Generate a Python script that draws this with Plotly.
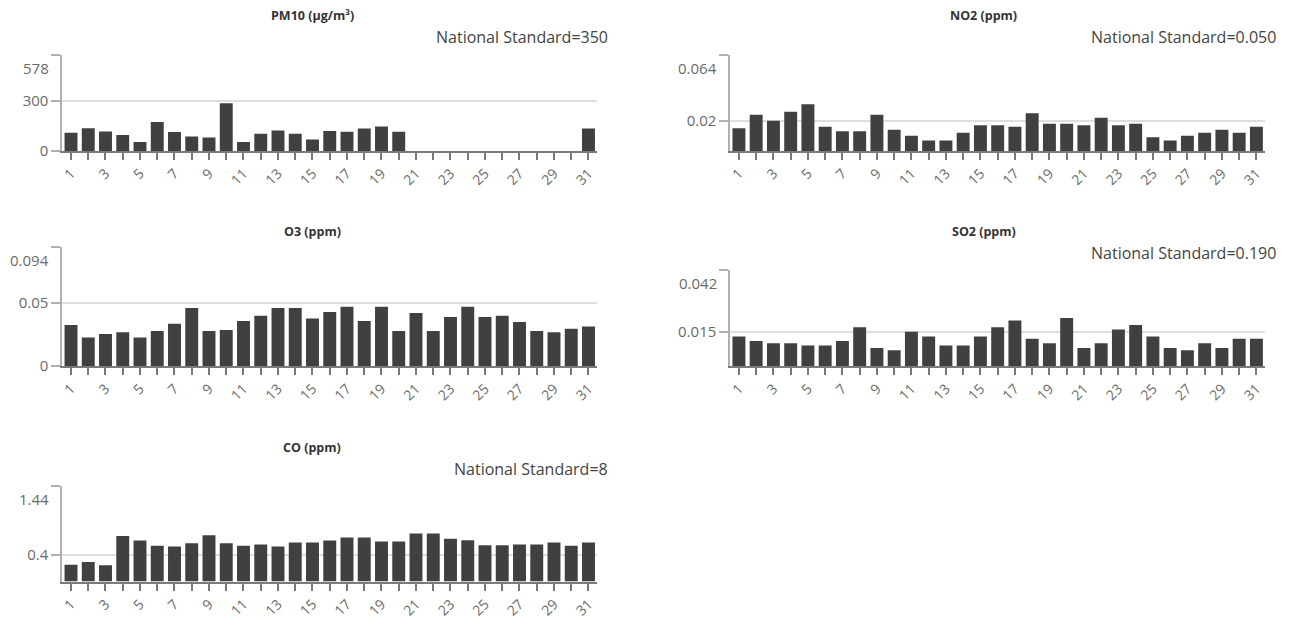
import plotly.graph_objects as go

# ---------------- data ----------------
days = list(range(1, 32))
day_labels = [str(d) if d % 2 == 1 else "" for d in days]

pm10 = [109, 136, 117, 95, 53, 173, 113, 86, 80, 287, 53, 103, 123, 103, 68,
        119, 115, 134, 146, 115, None, None, None, None, None, None, None, None,
        None, None, 134]
no2 = [0.015, 0.024, 0.020, 0.026, 0.031, 0.016, 0.013, 0.013, 0.024, 0.014,
       0.010, 0.007, 0.007, 0.012, 0.017, 0.017, 0.016, 0.025, 0.018, 0.018,
       0.017, 0.022, 0.017, 0.018, 0.009, 0.007, 0.010, 0.012, 0.014, 0.012,
       0.016]
o3 = [0.0325, 0.0227, 0.0255, 0.0268, 0.0227, 0.0278, 0.0335, 0.0459, 0.0278,
      0.0286, 0.0356, 0.0399, 0.0459, 0.0459, 0.0376, 0.0428, 0.0469, 0.0356,
      0.0469, 0.0278, 0.0420, 0.0278, 0.0389, 0.0469, 0.0389, 0.0399, 0.0348,
      0.0278, 0.0268, 0.0296, 0.0314]
so2 = [0.013, 0.011, 0.010, 0.010, 0.009, 0.009, 0.011, 0.017, 0.008, 0.007,
       0.015, 0.013, 0.009, 0.009, 0.013, 0.017, 0.020, 0.012, 0.010, 0.021,
       0.008, 0.010, 0.016, 0.018, 0.013, 0.008, 0.007, 0.010, 0.008, 0.012,
       0.012]
co = [0.255, 0.295, 0.245, 0.69, 0.62, 0.54, 0.53, 0.58, 0.70, 0.58, 0.54,
      0.56, 0.53, 0.59, 0.59, 0.62, 0.665, 0.665, 0.605, 0.605, 0.725, 0.725,
      0.645, 0.625, 0.55, 0.55, 0.56, 0.56, 0.59, 0.54, 0.59]

titles = ["PM10 (µg/m³)", "NO2 (ppm)", "O3 (ppm)", "SO2 (ppm)", "CO (ppm)"]
standards = ["National Standard=350", "National Standard=0.050", None,
             "National Standard=0.190", "National Standard=8"]
y_max = [578, 0.064, 0.094, 0.042, 1.44]
y_max_labels = ["578", "0.064", "0.094", "0.042", "1.44"]
y_mid = [300, 0.02, 0.05, 0.015, 0.4]
y_mid_labels = ["300", "0.02", "0.05", "0.015", "0.4"]
show_zero = [True, False, True, False, False]
series = [pm10, no2, o3, so2, co]

# ---------------- layout helpers (pixel positions) ----------------
W, H = 1274, 611
OFF = 8  # default page body margin


def X(px):
    return (px - OFF) / W


def Y(py):
    return 1 - (py - OFF) / H


# (left, right, title x, standard right x) per column
cols = {"L": (59.5, 595.5, 310, 608), "R": (729, 1265, 983, 1278)}
# (column, plot top, plot bottom, title y, standard y)
panels = [
    ("L", 55.7, 154, 16.0, 37.5),
    ("R", 55.7, 154, 16.0, 37.5),
    ("L", 252.3, 374, 236.0, None),
    ("R", 275.7, 374, 236.5, 258.0),
    ("L", 496.7, 594, 457.5, 479.0),
]

BAR = "#404040"
GRID = "#dedede"
TICKFONT = dict(family="Open Sans", size=15, color="#6a6a6a")

fig = go.Figure()
annotations = []
layout_axes = {}

for i, (col, top, bot, ty, sy) in enumerate(panels):
    left, right, tx, sx = cols[col]
    n = i + 1
    xa = "x" if n == 1 else f"x{n}"
    ya = "y" if n == 1 else f"y{n}"
    fig.add_trace(go.Bar(x=days, y=series[i], marker_color=BAR,
                         marker_line_width=0, xaxis=xa, yaxis=ya,
                         showlegend=False, hoverinfo="x+y"))

    tv = ([0] if show_zero[i] else []) + [y_mid[i], y_max[i]]
    tt = (["0"] if show_zero[i] else []) + [y_mid_labels[i], ""]
    xkey = "xaxis" if n == 1 else f"xaxis{n}"
    ykey = "yaxis" if n == 1 else f"yaxis{n}"
    layout_axes[xkey] = dict(
        domain=[X(left), X(right)], anchor=ya, range=[0.5, 31.5],
        tickmode="array", tickvals=days, ticktext=day_labels, tickangle=-45,
        ticks="outside", ticklen=7, tickwidth=1.5, tickcolor="#7a7a7a",
        showline=True, linecolor="#7a7a7a", linewidth=2,
        showgrid=False, zeroline=False,
        tickfont=dict(family="Open Sans", size=14, color="#6a6a6a"),
        fixedrange=True,
    )
    layout_axes[ykey] = dict(
        domain=[Y(bot), Y(top)], anchor=xa, range=[0, y_max[i]],
        tickmode="array", tickvals=tv, ticktext=tt,
        ticks="outside", ticklen=9, tickwidth=1.5, tickcolor="#b0b0b0",
        showline=True, linecolor="#b0b0b0", linewidth=2,
        showgrid=True, gridcolor=GRID, gridwidth=2, zeroline=False,
        tickfont=TICKFONT, fixedrange=True,
    )
    # top tick label, shifted down inside the plot like the original
    annotations.append(dict(
        xref="paper", yref="paper", x=X(left - 11), y=Y(top + 1),
        xanchor="right", yanchor="top", text=y_max_labels[i], showarrow=False,
        font=TICKFONT))
    # panel title
    annotations.append(dict(
        xref="paper", yref="paper", x=X(tx), y=Y(ty), xanchor="center",
        yanchor="middle", text=f"<b>{titles[i]}</b>", showarrow=False,
        font=dict(family="Open Sans", size=12.5, color="#333333")))
    if standards[i]:
        annotations.append(dict(
            xref="paper", yref="paper", x=X(sx), y=Y(sy), xanchor="right",
            yanchor="middle", text=standards[i], showarrow=False,
            font=dict(family="Open Sans", size=16, color="#444444")))

fig.update_layout(
    width=W, height=H, autosize=False,
    margin=dict(l=0, r=0, t=0, b=0, pad=0),
    paper_bgcolor="white", plot_bgcolor="white",
    bargap=0.25, font=dict(family="Open Sans"),
    annotations=annotations,
    shapes=[dict(type="line", xref="paper", yref="paper", x0=0, x1=1,
                 y0=Y(3), y1=Y(3), line=dict(color="#f2f2f2", width=2))],
    **layout_axes,
)

fig.write_html("out.html")
